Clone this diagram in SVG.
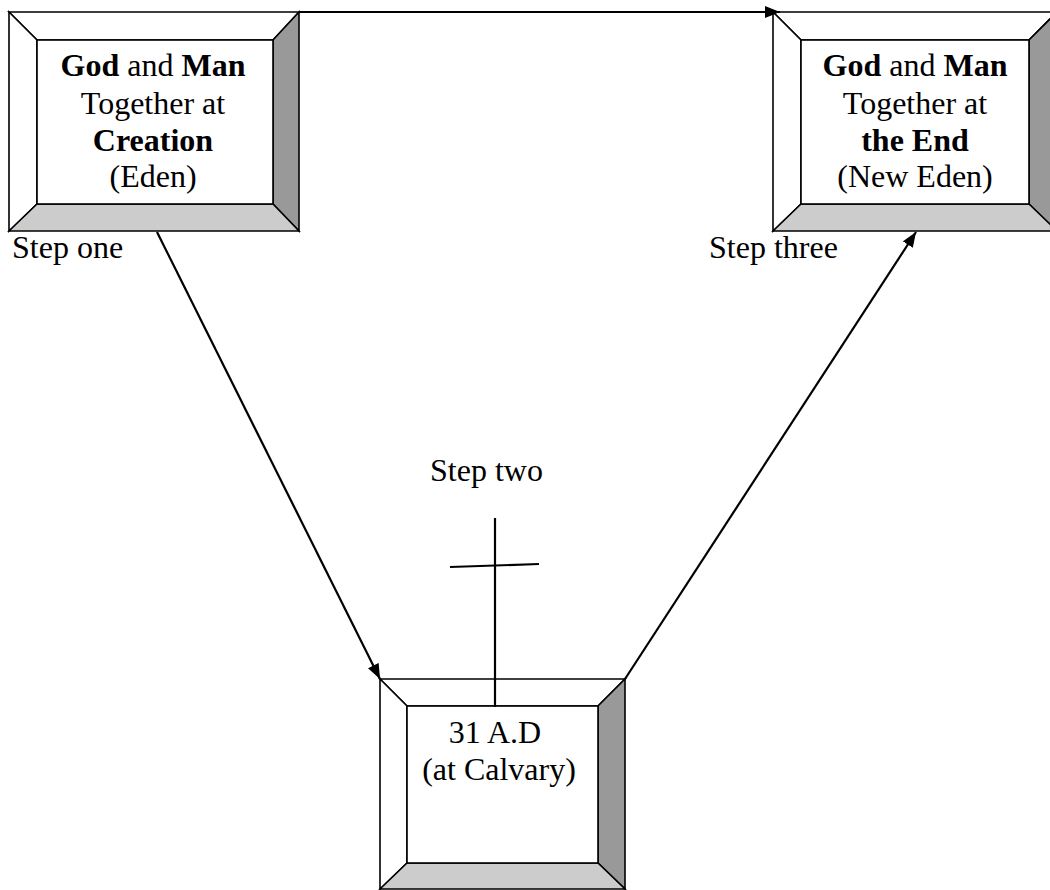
<svg xmlns="http://www.w3.org/2000/svg" width="1050" height="890" viewBox="0 0 1050 890">
<defs>
<style>
.bv{stroke:#000;stroke-width:1.6;stroke-linejoin:miter}
.lt{fill:#fff}
.dk{fill:#999}
.md{fill:#ccc}
.face{fill:#fff;stroke:#000;stroke-width:1.6}
text{font-family:"Liberation Serif","Times New Roman",serif;font-size:32px;fill:#000}
.c{text-anchor:middle}
.b{font-weight:bold}
.conn{stroke:#000;stroke-width:2.2;fill:none}
</style>
<marker id="ah" viewBox="0 0 15 12" refX="15" refY="6" markerWidth="15" markerHeight="12" markerUnits="userSpaceOnUse" orient="auto">
<path d="M0,0 L15,6 L0,12 Z" fill="#000"/>
</marker>
</defs>
<rect width="1050" height="890" fill="#fff"/>

<g id="node-creation">
<polygon class="bv lt" points="9,12 299,12 273,40 37,40"/>
<polygon class="bv lt" points="9,12 37,40 37,204 9,231"/>
<polygon class="bv dk" points="299,12 299,231 273,204 273,40"/>
<polygon class="bv md" points="9,231 37,204 273,204 299,231"/>
<rect class="face" x="37" y="40" width="236" height="164"/>
<text class="c" x="153" y="76"><tspan class="b">God</tspan> and <tspan class="b">Man</tspan></text>
<text class="c" x="153" y="114">Together at</text>
<text class="c b" x="153" y="151">Creation</text>
<text class="c" x="153" y="187">(Eden)</text>
</g>

<g id="node-end">
<polygon class="bv lt" points="773,12 1057,12 1029,40 801,40"/>
<polygon class="bv lt" points="773,12 801,40 801,204 773,231"/>
<polygon class="bv dk" points="1057,12 1057,231 1029,204 1029,40"/>
<polygon class="bv md" points="773,231 801,204 1029,204 1057,231"/>
<rect class="face" x="801" y="40" width="228" height="164"/>
<text class="c" x="915" y="76"><tspan class="b">God</tspan> and <tspan class="b">Man</tspan></text>
<text class="c" x="915" y="114">Together at</text>
<text class="c b" x="915" y="151">the End</text>
<text class="c" x="915" y="187">(New Eden)</text>
</g>

<g id="node-calvary">
<polygon class="bv lt" points="380,679 625,679 598,706 407,706"/>
<polygon class="bv lt" points="380,679 407,706 407,863 380,889"/>
<polygon class="bv dk" points="625,679 625,889 598,863 598,706"/>
<polygon class="bv md" points="380,889 407,863 598,863 625,889"/>
<rect class="face" x="407" y="706" width="191" height="157"/>
<text class="c" x="495" y="743">31 A.D</text>
<text class="c" x="499" y="780">(at Calvary)</text>
</g>

<g id="labels">
<text x="12" y="258">Step one</text>
<text x="430" y="481">Step two</text>
<text x="709" y="258">Step three</text>
</g>

<g id="connectors">
<line class="conn" x1="299" y1="12" x2="780" y2="12" marker-end="url(#ah)"/>
<line class="conn" x1="157" y1="232" x2="380" y2="679" marker-end="url(#ah)"/>
<line class="conn" x1="625" y1="679" x2="916" y2="232" marker-end="url(#ah)"/>
</g>

<g id="cross">
<line class="conn" x1="495" y1="518" x2="495" y2="707"/>
<line class="conn" x1="450" y1="567" x2="539" y2="564"/>
</g>
</svg>
